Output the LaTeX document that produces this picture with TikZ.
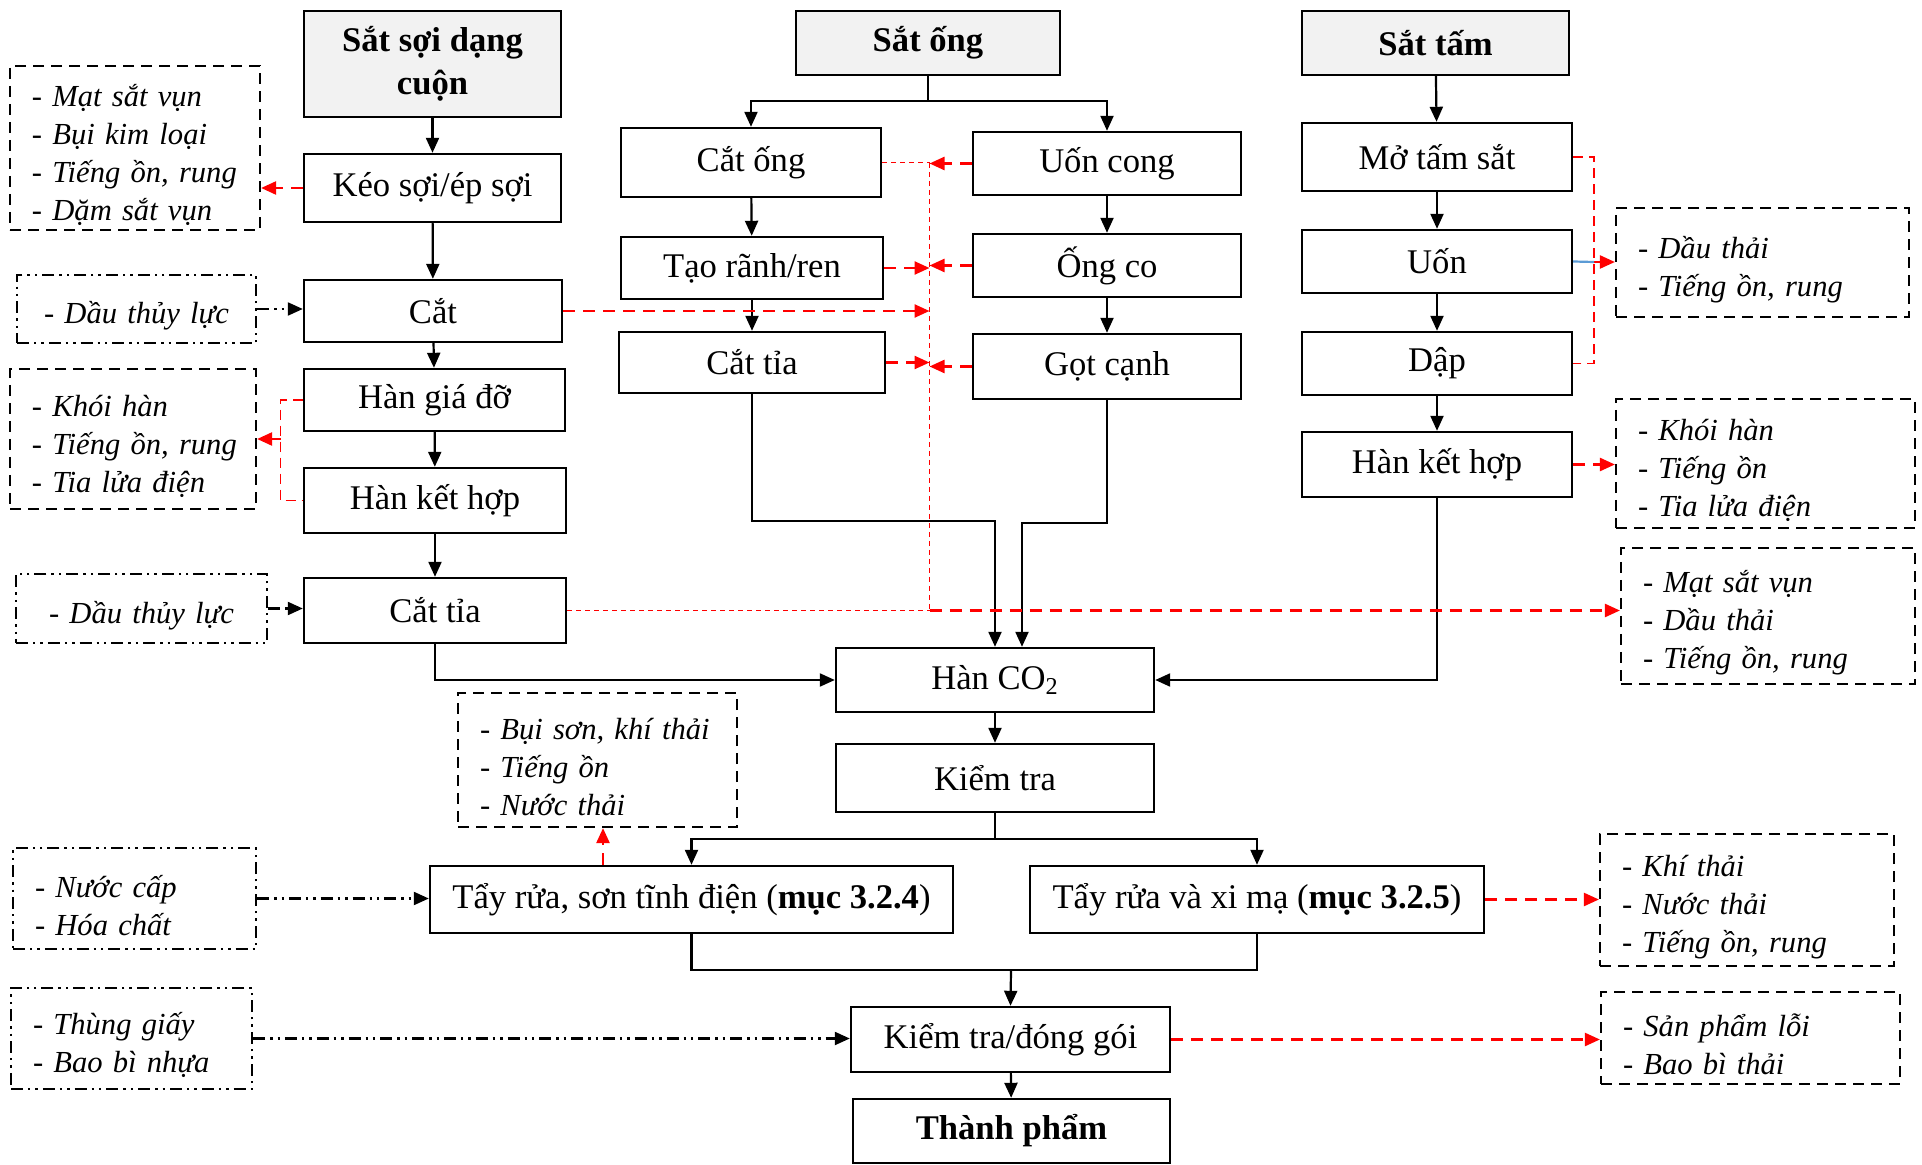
\documentclass[tikz,border=0pt]{standalone}
\usepackage{fontspec}
\setmainfont{Liberation Serif}
\usetikzlibrary{arrows.meta}
\definecolor{srcgray}{HTML}{F2F2F2}
\definecolor{linkblue}{HTML}{5B9BD5}

% box from corner (x1,y1) to (x2,y2), given in pixel units
\newcommand\bx[7]{%
  \pgfmathsetmacro\bxw{(#5-#3)*0.5}%
  \pgfmathsetmacro\bxh{(#6-#4)*0.5}%
  \pgfmathsetmacro\bxt{(#5-#3)*0.5-22}%
  \node[#1, minimum width=\bxw pt, minimum height=\bxh pt] (#2) at ({(#3+#5)/2},{(#4+#6)/2}) {#7};%
}

\begin{document}
\begin{tikzpicture}[x=0.5pt,y=-0.5pt,
  proc/.style={draw=black, line width=1.2pt, fill=white, inner sep=0pt, align=center,
    font=\fontsize{17.3}{21}\selectfont},
  src/.style={proc, fill=srcgray, font=\fontsize{17.3}{21.5}\selectfont\bfseries},
  final/.style={proc, font=\fontsize{17.3}{21}\selectfont\bfseries},
  waste/.style={draw=black, line width=1.1pt, dash pattern=on 5.5pt off 3.5pt,
    font=\fontsize{15.3}{19}\selectfont\itshape, text width=\bxt pt, align=left,
    inner xsep=11pt, inner ysep=0pt, execute at begin node={\rule{0pt}{18pt}}},
  supply/.style={waste, dash pattern=on 6pt off 2.5pt on 1.2pt off 2.5pt on 1.2pt off 2.5pt},
  tipstyle/.style={-{Triangle[length=7.5pt,width=6.5pt]}},
  flow/.style={draw=black, line width=1.1pt, tipstyle},
  link/.style={draw=black, line width=1.1pt},
  emit/.style={draw=red, line width=1.2pt, dash pattern=on 6pt off 4pt, tipstyle},
  bracket/.style={draw=red, line width=0.9pt, dash pattern=on 5pt off 3pt},
  redfine/.style={draw=red, line width=0.6pt, dash pattern=on 2.5pt off 2pt},
  feed/.style={draw=black, line width=1.1pt,
    dash pattern=on 6pt off 2.5pt on 1.2pt off 2.5pt on 1.2pt off 2.5pt, tipstyle},
]
\useasboundingbox (0,0) rectangle (1922,1165);

% ---- wire coil line
\bx{src}{soi}{304}{11}{561}{117}{Sắt sợi dạng\\cuộn}
\bx{proc}{keo}{304}{154}{561}{222}{Kéo sợi/ép sợi}
\bx{proc}{cat}{304}{280}{562}{342}{Cắt}
\bx{proc}{hgd}{304}{369}{565}{431}{Hàn giá đỡ}
\bx{proc}{hkh}{304}{468}{566}{533}{Hàn kết hợp}
\bx{proc}{cti}{304}{578}{566}{643}{Cắt tỉa}

% ---- pipe line
\bx{src}{ong}{796}{11}{1060}{75}{Sắt ống}
\bx{proc}{catong}{621}{128}{881}{197}{Cắt ống}
\bx{proc}{uon}{973}{132}{1241}{195}{Uốn cong}
\bx{proc}{taorr}{621}{237}{883}{299}{Tạo rãnh/ren}
\bx{proc}{ongco}{973}{234}{1241}{297}{Ống co}
\bx{proc}{cti2}{619}{332}{885}{393}{Cắt tỉa}
\bx{proc}{got}{973}{334}{1241}{399}{Gọt cạnh}

% ---- sheet line
\bx{src}{tam}{1302}{11}{1569}{75}{Sắt tấm}
\bx{proc}{mo}{1302}{123}{1572}{191}{Mở tấm sắt}
\bx{proc}{uonT}{1302}{230}{1572}{293}{Uốn}
\bx{proc}{dap}{1302}{332}{1572}{395}{Dập}
\bx{proc}{hkh2}{1302}{432}{1572}{497}{Hàn kết hợp}

% ---- common line
\bx{proc}{hco2}{836}{648}{1154}{712}{Hàn CO\textsubscript{2}}
\bx{proc}{kt}{836}{744}{1154}{812}{Kiểm tra}
\bx{proc}{tay1}{430}{866}{953}{933}{Tẩy rửa, sơn tĩnh điện (\textbf{mục 3.2.4})}
\bx{proc}{tay2}{1030}{866}{1484}{933}{Tẩy rửa và xi mạ (\textbf{mục 3.2.5})}
\bx{proc}{kdg}{851}{1007}{1170}{1072}{Kiểm tra/đóng gói}
\bx{final}{tp}{853}{1099}{1170}{1163}{Thành phẩm}

% ---- waste boxes
\bx{waste}{mat1}{10}{66}{260}{230}{- Mạt sắt vụn\\- Bụi kim loại\\\mbox{- Tiếng ồn, rung}\\- Dặm sắt vụn}
\bx{waste}{khoi1}{10}{369}{256}{509}{- Khói hàn\\\mbox{- Tiếng ồn, rung}\\- Tia lửa điện}
\bx{waste}{buison}{458}{693}{737}{827}{- Bụi sơn, khí thải\\- Tiếng ồn\\- Nước thải}
\bx{waste}{dauthai}{1616}{208}{1909}{317}{- Dầu thải\\- Tiếng ồn, rung}
\bx{waste}{khoiR}{1616}{399}{1915}{528}{- Khói hàn\\- Tiếng ồn\\- Tia lửa điện}
\bx{waste}{matR}{1621}{548}{1915}{684}{- Mạt sắt vụn\\- Dầu thải\\- Tiếng ồn, rung}
\bx{waste}{khithai}{1600}{834}{1894}{966}{- Khí thải\\- Nước thải\\- Tiếng ồn, rung}
\bx{waste}{sanpham}{1601}{992}{1900}{1084}{- Sản phẩm lỗi\\- Bao bì thải}

% ---- supply boxes
\bx{supply,align=center}{dtl1}{17}{275}{256}{343}{- Dầu thủy lực}
\bx{supply,align=center}{dtl2}{16}{574}{267}{643}{- Dầu thủy lực}
\bx{supply}{nuoc}{13}{848}{256}{949}{- Nước cấp\\- Hóa chất}
\bx{supply}{thung}{11}{988}{252}{1089}{- Thùng giấy\\- Bao bì nhựa}

% ---- main flow, wire coil
\draw[flow] (soi) -- (keo);
\draw[flow] (keo) -- (cat);
\draw[flow] (cat) -- (hgd);
\draw[flow] (hgd) -- (hkh);
\draw[flow] (hkh) -- (cti);
\draw[flow] (cti.south) |- (hco2.west);

% ---- main flow, pipe
\coordinate (ongsplit) at (928,101);
\draw[link] (ong.south) -- (ongsplit);
\draw[flow] (ongsplit) -| (catong.north);
\draw[flow] (ongsplit) -| (uon.north);
\draw[flow] (catong) -- (taorr);
\draw[flow] (taorr) -- (cti2);
\draw[flow] (uon) -- (ongco);
\draw[flow] (ongco) -- (got);
\coordinate (xa) at (995,0);
\coordinate (xb) at (1022,0);
\draw[flow] (cti2.south) |- (995,521) -- (hco2.north -| xa);
\draw[flow] (got.south) |- (1022,523) -- (hco2.north -| xb);

% ---- main flow, sheet
\draw[flow] (tam) -- (mo);
\draw[flow] (mo) -- (uonT);
\draw[flow] (uonT) -- (dap);
\draw[flow] (dap) -- (hkh2);
\draw[flow] (hkh2.south) |- (hco2.east);

% ---- common flow
\draw[flow] (hco2) -- (kt);
\coordinate (ktsplit) at (995,839);
\draw[link] (kt.south) -- (ktsplit);
\draw[flow] (ktsplit) -| (tay1.north);
\draw[flow] (ktsplit) -| (tay2.north);
\coordinate (tayjoin) at (1011,970);
\draw[link] (tay1.south) |- (tayjoin) -| (tay2.south);
\draw[flow] (tayjoin) -- (kdg.north);
\draw[flow] (kdg) -- (tp);

% ---- emissions, left column
\draw[emit] (keo.west) -- (mat1.east |- keo.west);
\coordinate (brL) at (280.5,439);
\draw[bracket] (hgd.west) -| (brL) |- (hkh.west);
\draw[emit] (brL) -- (khoi1.east |- brL);

% ---- emissions collected on the vertical line
\coordinate (vtop) at (929.5,163);
\coordinate (vbot) at (929.5,610.5);
\draw[redfine] (vtop) -- (vbot);
\draw[redfine] (catong.east) -- (catong.east -| vtop);
\draw[emit] (uon.west) -- (uon.west -| vtop);
\draw[emit] (taorr.east) -- (taorr.east -| vtop);
\draw[emit] (ongco.west) -- (ongco.west -| vtop);
\draw[emit] (cat.east) -- (cat.east -| vtop);
\draw[emit] (cti2.east) -- (cti2.east -| vtop);
\draw[emit] (got.west) -- (got.west -| vtop);
\draw[redfine] (cti.east) -- (cti.east -| vtop);
\draw[emit] (cti.east -| vtop) -- (cti.east -| matR.west);

% ---- emissions, sheet column
\coordinate (brR) at (1594,262);
\draw[bracket] (mo.east) -| (brR) |- (dap.east);
\draw[emit] (brR) -- (dauthai.west |- brR);
\draw[draw=linkblue, line width=1.1pt] (uonT.east) -- (brR);
\draw[emit] (hkh2.east) -- (khoiR.west |- hkh2.east);

% ---- emissions, finishing
\coordinate (xs) at (603,0);
\draw[emit] (tay1.north -| xs) -- (buison.south -| xs);
\draw[emit] (tay2.east) -- (khithai.west |- tay2.east);
\draw[emit] (kdg.east) -- (sanpham.west |- kdg.east);

% ---- material inputs
\draw[feed] (dtl1.east) -- (cat.west |- dtl1.east);
\draw[feed] (dtl2.east) -- (cti.west |- dtl2.east);
\draw[feed] (nuoc.east) -- (tay1.west |- nuoc.east);
\draw[feed] (thung.east) -- (kdg.west |- thung.east);
\end{tikzpicture}
\end{document}
